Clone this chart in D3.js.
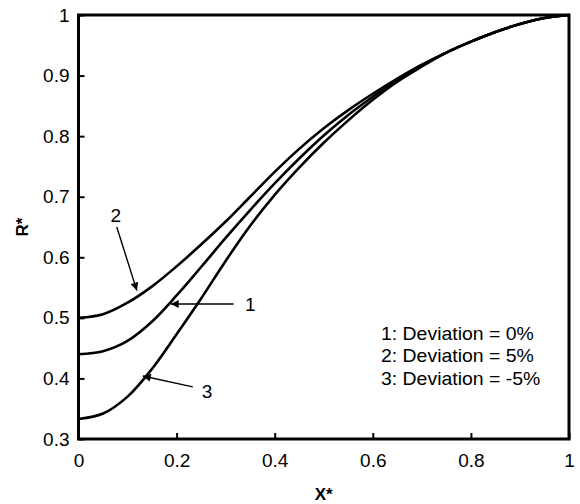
<!DOCTYPE html>
<html><head><meta charset="utf-8">
<script src="https://cdn.jsdelivr.net/npm/d3@7"></script>
<style>
body{margin:0;background:#fff;}
svg{display:block;font-family:"Liberation Sans",Arial,sans-serif;}
</style></head>
<body><svg id="c" width="580" height="504"></svg>
<script>
const xVals = [0,0.05,0.1,0.15,0.2,0.25,0.3,0.35,0.4,0.45,0.5,0.55,0.6,0.65,0.7,0.75,0.8,0.85,0.9,0.95,1.0];
const series1 = [0.44,0.445,0.462,0.494,0.537,0.584,0.632,0.678,0.722,0.763,0.801,0.835,0.865,0.893,0.917,0.938,0.956,0.972,0.985,0.995,1.0];
const series2 = [0.5,0.506,0.525,0.552,0.585,0.621,0.659,0.700,0.741,0.779,0.813,0.843,0.870,0.895,0.918,0.938,0.956,0.972,0.985,0.995,1.0];
const series3 = [0.333,0.342,0.370,0.416,0.473,0.532,0.594,0.652,0.703,0.748,0.789,0.826,0.860,0.890,0.915,0.938,0.956,0.972,0.985,0.995,1.0];
const xTicks = [0,0.2,0.4,0.6,0.8,1];
const yTicks = [0.3,0.4,0.5,0.6,0.7,0.8,0.9,1];
const legendLines = ["1: Deviation = 0%","2: Deviation = 5%","3: Deviation = -5%"];
// annotations: label position, arrow start, arrow tip (data units)
const annotations = [
  {label:"2", lx:0.076, ly:0.670, x1:0.078, y1:0.650, x2:0.119, y2:0.545},
  {label:"1", lx:0.350, ly:0.523, x1:0.316, y1:0.523, x2:0.188, y2:0.523},
  {label:"3", lx:0.262, ly:0.379, x1:0.233, y1:0.386, x2:0.131, y2:0.404}
];

const svg = d3.select("#c");
const L=78.5, T=15, W=490.5, H=424;
const x = d3.scaleLinear().domain([0,1]).range([L,L+W]);
const y = d3.scaleLinear().domain([0.3,1]).range([T+H,T]);

svg.append("defs").append("marker").attr("id","ah").attr("viewBox","0 0 10 10")
  .attr("refX",10).attr("refY",5).attr("markerWidth",11).attr("markerHeight",8)
  .attr("markerUnits","userSpaceOnUse").attr("orient","auto")
  .append("path").attr("d","M0,0L10,5L0,10Z").attr("fill","#000");

// frame
svg.append("rect").attr("x",L).attr("y",T).attr("width",W).attr("height",H)
  .attr("fill","none").attr("stroke","#000").attr("stroke-width",3);

// axes with inward ticks
const gx = svg.append("g").attr("transform",`translate(0,${T+H})`)
  .call(d3.axisBottom(x).tickValues(xTicks).tickSize(-6).tickPadding(15).tickFormat(d=>d3.format("")(d)));
const gy = svg.append("g").attr("transform",`translate(${L},0)`)
  .call(d3.axisLeft(y).tickValues(yTicks).tickSize(-6).tickPadding(9).tickFormat(d=>d3.format("")(+d.toFixed(1))));
[gx,gy].forEach(g=>{
  g.select(".domain").remove();
  g.selectAll(".tick line").attr("stroke","#000").attr("stroke-width",2);
  g.selectAll(".tick text").attr("font-size",19).attr("fill","#000")
   .attr("font-family","'Liberation Sans',Arial,sans-serif");
});

// curves
const line = d3.line().x((d,i)=>x(xVals[i])).y(d=>y(d)).curve(d3.curveCatmullRom.alpha(0.5));
[series1,series2,series3].forEach(s=>{
  svg.append("path").attr("d",line(s)).attr("fill","none").attr("stroke","#000").attr("stroke-width",2.6);
});

// annotations
annotations.forEach(a=>{
  svg.append("line").attr("x1",x(a.x1)).attr("y1",y(a.y1)).attr("x2",x(a.x2)).attr("y2",y(a.y2))
    .attr("stroke","#000").attr("stroke-width",1.4).attr("marker-end","url(#ah)");
  svg.append("text").attr("x",x(a.lx)).attr("y",y(a.ly)).attr("dy","0.35em")
    .attr("text-anchor","middle").attr("font-size",19).text(a.label);
});

// legend (slightly wide lettering as in the reference)
svg.append("g").attr("transform","translate(381,0) scale(1.08,1)")
  .selectAll("text").data(legendLines).join("text")
  .attr("x",0).attr("y",(d,i)=>340+i*22.5).attr("font-size",18).text(d=>d);

// axis titles
svg.append("text").attr("x",x(0.5)).attr("y",500).attr("text-anchor","middle")
  .attr("font-size",17).attr("font-weight","bold").text("X*");
svg.append("text").attr("transform",`translate(28,${T+H/2}) rotate(-90)`).attr("text-anchor","middle")
  .attr("font-size",17).attr("font-weight","bold").text("R*");
</script></body></html>
